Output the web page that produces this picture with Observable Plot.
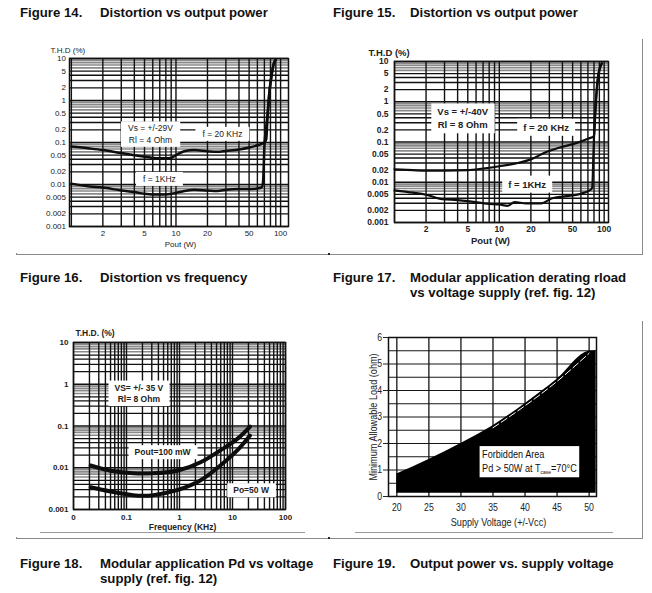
<!DOCTYPE html>
<html><head><meta charset="utf-8">
<script src="https://cdn.jsdelivr.net/npm/d3@7"></script>
<script src="https://cdn.jsdelivr.net/npm/@observablehq/plot@0.6"></script>
<style>
body{margin:0;background:#fff;}
#page{position:relative;width:652px;height:593px;background:#fff;overflow:hidden;font-family:"Liberation Sans",Arial,sans-serif;color:#111;}
.title{position:absolute;font-weight:bold;font-size:13.2px;line-height:15px;white-space:nowrap;}
.title .num{position:absolute;left:0;top:0;}
.title .txt{position:absolute;top:0;}
.box{position:absolute;box-sizing:border-box;border:1px solid #8a8a8a;border-bottom:3px double #8a8a8a;}
.divider{position:absolute;width:2px;background:#222;}
.inner{position:absolute;height:1px;background:#9a9a9a;}
.fig{position:absolute;}
.fig svg{display:block;}
</style></head>
<body>
<div id="page">
  <div class="title" style="left:20px;top:5px"><span class="num">Figure 14.</span><span class="txt" style="left:80px">Distortion vs output power</span></div>
  <div class="title" style="left:333px;top:5px"><span class="num">Figure 15.</span><span class="txt" style="left:77px">Distortion vs output power</span></div>
  <div class="title" style="left:20px;top:270px"><span class="num">Figure 16.</span><span class="txt" style="left:80px">Distortion vs frequency</span></div>
  <div class="title" style="left:333px;top:270px"><span class="num">Figure 17.</span><span class="txt" style="left:77px">Modular application derating rload<br>vs voltage supply (ref. fig. 12)</span></div>
  <div class="title" style="left:20px;top:556px"><span class="num">Figure 18.</span><span class="txt" style="left:80px">Modular application Pd vs voltage<br>supply (ref. fig. 12)</span></div>
  <div class="title" style="left:333px;top:556px"><span class="num">Figure 19.</span><span class="txt" style="left:77px">Output power vs. supply voltage</span></div>

  <div class="box" style="left:16px;top:39px;width:314px;height:216px"></div>
  <div class="box" style="left:329px;top:39px;width:314px;height:216px"></div>
  <div class="box" style="left:16px;top:321px;width:314px;height:218px"></div>
  <div class="box" style="left:329px;top:321px;width:314px;height:218px"></div>
  <div class="divider" style="left:328px;top:39px;height:216px"></div>
  <div class="divider" style="left:328px;top:321px;height:218px"></div>

  <div class="fig" id="f14" style="left:16px;top:39px"></div>
  <div class="fig" id="f15" style="left:329px;top:39px"></div>
  <div class="fig" id="f16" style="left:16px;top:321px"></div>
  <div class="fig" id="f17" style="left:329px;top:321px"></div>
  <div class="inner" style="left:40px;top:532px;width:265px"></div>
  <div class="inner" style="left:355px;top:532px;width:258px"></div>
</div>
<script>
const pageFont = '"Liberation Sans", Arial, sans-serif';

// ---------- Figure 14 data: THD (%) vs Pout (W), Vs=+/-29V, Rl=4 Ohm ----------
const f14PoutHi = [1, 1.5, 2, 3, 4, 5, 6, 7, 8, 9, 10, 12, 15, 20, 25, 30, 40, 50, 60, 70, 73, 75, 78, 82, 86, 90];
const f14ThdHi  = [0.08, 0.072, 0.066, 0.056, 0.05, 0.046, 0.043, 0.042, 0.042, 0.043, 0.05, 0.062, 0.066, 0.062, 0.06, 0.063, 0.068, 0.076, 0.086, 0.1, 0.12, 0.4, 1.5, 4, 7.5, 9.5];
const f14PoutLo = [1, 1.5, 2, 3, 4, 5, 6, 7, 8, 9, 10, 12, 15, 20, 25, 30, 40, 50, 60, 66, 68, 70, 73, 75, 78, 82, 86, 90];
const f14ThdLo  = [0.0105, 0.009, 0.0085, 0.0072, 0.0066, 0.006, 0.0058, 0.0058, 0.0058, 0.006, 0.0063, 0.007, 0.0075, 0.0072, 0.007, 0.0075, 0.0078, 0.0078, 0.008, 0.0085, 0.012, 0.08, 0.25, 0.45, 1.5, 4, 7.5, 9.5];
const f14XTicks = [2, 5, 10, 20, 50, 100];
const f14YTicks = [10, 5, 2, 1, 0.5, 0.2, 0.1, 0.05, 0.02, 0.01, 0.005, 0.002, 0.001];
const f14NoteText = ["Vs = +/-29V\nRl = 4 Ohm", "f = 20 KHz", "f = 1KHz"];
const f14NoteX = [5.7, 27.8, 6.95];
const f14NoteY = [0.164, 0.167, 0.0141];

// ---------- Figure 15 data: Vs=+/-40V, Rl=8 Ohm ----------
const f15PoutHi = [1, 1.5, 2, 3, 5, 7, 10, 15, 20, 27, 40, 55, 70, 80, 82, 85, 89, 95];
const f15ThdHi  = [0.021, 0.02, 0.0195, 0.0195, 0.02, 0.022, 0.025, 0.03, 0.037, 0.054, 0.076, 0.095, 0.12, 0.14, 0.4, 1.8, 5, 9];
const f15PoutLo = [1, 1.5, 2, 2.85, 4, 5, 8, 10, 12, 14, 18, 25, 32, 40, 50, 60, 75, 77, 79, 81, 84, 88, 95];
const f15ThdLo  = [0.0063, 0.0055, 0.0049, 0.0038, 0.0036, 0.0034, 0.0029, 0.0028, 0.0026, 0.0032, 0.003, 0.003, 0.004, 0.0044, 0.0047, 0.0052, 0.0066, 0.0075, 0.05, 0.3, 1.5, 5, 9];
const f15XTicks = [2, 5, 10, 20, 50, 100];
const f15YTicks = [10, 5, 2, 1, 0.5, 0.2, 0.1, 0.05, 0.02, 0.01, 0.005, 0.002, 0.001];
const f15NoteText = ["Vs = +/-40V\nRl = 8 Ohm", "f = 20 KHz", "f = 1KHz"];
const f15NoteX = [4.47, 27.9, 18.4];
const f15NoteY = [0.4, 0.24, 0.0093];

// ---------- Figure 16 data: THD (%) vs frequency (kHz), Vs=+/-35V, Rl=8 Ohm ----------
const f16Freq    = [0.021, 0.05, 0.134, 0.32, 0.9, 2.5, 5.9, 12.3, 21.4];
const f16Thd100m = [0.0113, 0.0085, 0.0074, 0.0074, 0.0085, 0.0135, 0.026, 0.049, 0.097];
const f16Thd50W  = [0.0034, 0.0027, 0.0022, 0.0022, 0.0029, 0.005, 0.0113, 0.026, 0.059];
const f16XTicks = [0.01, 0.1, 1, 10, 100];
const f16XLabels = ["0", "0.1", "1", "10", "100"];
const f16YTicks = [10, 1, 0.1, 0.01, 0.001];
const f16NoteText = ["VS= +/- 35 V\nRl= 8 Ohm", "Pout=100 mW", "Po=50 W"];
const f16NoteX = [0.171, 0.48, 22.4];
const f16NoteY = [0.63, 0.0245, 0.003];

// ---------- Figure 17 data: minimum allowable load (ohm) vs supply voltage ----------
const f17Vcc  = [20, 25, 30, 35, 40, 45, 50, 51.1];
const f17Rmin = [0.85, 1.4, 2.0, 2.67, 3.5, 4.42, 5.48, 5.5];
const f17Floor = 0.12;
const f17XTicks = [20, 25, 30, 35, 40, 45, 50];
const f17YTicks = [0, 1, 2, 3, 4, 5, 6];
const f17NoteText = ["Forbidden Area\nPd > 50W at Tcase=70°C"];
const f17NoteX = [33.3];
const f17NoteY = [1.36];

// ---------- helpers ----------
function logGrid(e0, e1) {
  const out = [];
  for (let e = e0; e < e1; e++) for (let m = 1; m < 10; m++) out.push(+(m * 10 ** e).toPrecision(3));
  out.push(+(10 ** e1).toPrecision(3));
  return out;
}
const mant = v => Math.round(v / 10 ** Math.floor(Math.log10(v) + 1e-9));
const light = g => g.filter(v => mant(v) >= 6);
const dark = g => g.filter(v => mant(v) < 6);
const zipXY = (xs, ys) => xs.map((x, i) => ({x, y: ys[i]}));
const notes = (t, xs, ys) => t.map((text, i) => ({text, x: xs[i], y: ys[i]}));

function logFigure(o) {
  const yGrid = logGrid(-3, 1);
  const xFmt = o.xFormat || (d => String(d));
  return Plot.plot({
    width: o.width, height: o.height,
    marginLeft: o.ml, marginRight: o.mr, marginTop: o.mt, marginBottom: o.mb,
    x: {type: "log", domain: o.xDomain, axis: null},
    y: {type: "log", domain: [0.001, 10], axis: null},
    style: {fontFamily: pageFont, fontSize: o.tickFont + "px", fontWeight: o.weight, color: "#222", background: "white", overflow: "visible"},
    marks: [
      Plot.ruleY(light(yGrid), {stroke: "#8a8a8a", strokeWidth: 1.7}),
      Plot.ruleY(dark(yGrid), {stroke: "#111", strokeWidth: 1.35}),
      Plot.ruleX(o.xGrid, {stroke: "#111", strokeWidth: 1.4}),
      Plot.frame({stroke: "#111", strokeWidth: 1.5}),
      Plot.text(o.yTicks, {y: d => d, text: d => String(d), frameAnchor: "left", textAnchor: "end", dx: -o.yPad, fill: "#222"}),
      Plot.text(o.xTicks, {x: d => d, text: (d, i) => xFmt(d, i), frameAnchor: "bottom", lineAnchor: "top", dy: o.xPad, fill: "#222"}),
      Plot.text(o.notes, {x: "x", y: "y", text: "text", fontSize: o.noteFont, lineHeight: 1.35, fill: "#222"}),
      ...o.series.map(s => Plot.line(s, {x: "x", y: "y", stroke: "#0d0d0d", strokeWidth: o.lineWidth, curve: o.curve})),
      Plot.text([o.yLabel], {text: d => d, frameAnchor: "top-left", textAnchor: "start", lineAnchor: "middle", dx: o.yLabelDx, dy: o.yLabelDy, fontSize: o.labelFont}),
      Plot.text([o.xLabel], {text: d => d, frameAnchor: "bottom", lineAnchor: "middle", dx: o.xLabelDx, dy: o.xLabelDy, fontSize: o.labelFont})
    ]
  });
}

const fig14 = logFigure({
  width: 313, height: 214, ml: 53, mr: 41, mt: 19, mb: 27,
  xDomain: [0.96, 119], xGrid: logGrid(0, 2), xTicks: f14XTicks, yTicks: f14YTicks,
  tickFont: 8, weight: "normal", yPad: 3.5, xPad: 4, noteFont: 8.5, labelFont: 8,
  notes: notes(f14NoteText, f14NoteX, f14NoteY),
  series: [zipXY(f14PoutHi, f14ThdHi), zipXY(f14PoutLo, f14ThdLo)], lineWidth: 2.5, curve: "monotone-x",
  yLabel: "T.H.D (%)", yLabelDx: -19, yLabelDy: -8, xLabel: "Pout (W)", xLabelDx: 1.5, xLabelDy: 18
});
const fig15 = logFigure({
  width: 313, height: 214, ml: 65, mr: 34, mt: 22, mb: 31,
  xDomain: [1, 110], xGrid: logGrid(0, 2), xTicks: f15XTicks, yTicks: f15YTicks,
  tickFont: 8.5, weight: "bold", yPad: 6, xPad: 3.5, noteFont: 9.5, labelFont: 9.5,
  notes: notes(f15NoteText, f15NoteX, f15NoteY),
  series: [zipXY(f15PoutHi, f15ThdHi), zipXY(f15PoutLo, f15ThdLo)], lineWidth: 2.2, curve: "monotone-x",
  yLabel: "T.H.D (%)", yLabelDx: -26, yLabelDy: -9, xLabel: "Pout (W)", xLabelDx: -11, xLabelDy: 18
});
const fig16 = logFigure({
  width: 313, height: 216, ml: 57, mr: 44, mt: 21, mb: 28,
  xDomain: [0.01, 100], xGrid: logGrid(-2, 2), xTicks: f16XTicks, yTicks: f16YTicks,
  xFormat: (d, i) => f16XLabels[i],
  tickFont: 8, weight: "bold", yPad: 5, xPad: 5, noteFont: 8.5, labelFont: 8.5,
  notes: notes(f16NoteText, f16NoteX, f16NoteY),
  series: [zipXY(f16Freq, f16Thd100m), zipXY(f16Freq, f16Thd50W)], lineWidth: 4, curve: "natural",
  yLabel: "T.H.D. (%)", yLabelDx: 2, yLabelDy: -9, xLabel: "Frequency (KHz)", xLabelDx: 3, xLabelDy: 18
});

const f17Data = zipXY(f17Vcc, f17Rmin);
const fig17 = Plot.plot({
  width: 313, height: 216, marginLeft: 59, marginRight: 46, marginTop: 16, marginBottom: 41,
  x: {domain: [18.7, 51.15]},
  y: {domain: [0, 6]},
  style: {fontFamily: pageFont, fontSize: "10.5px", color: "#222", background: "white", overflow: "visible"},
  marks: [
    Plot.ruleY(d3.range(0.5, 6, 0.5), {stroke: "#151515", strokeWidth: 1.2}),
    Plot.ruleX(f17XTicks, {stroke: "#151515", strokeWidth: 1.3}),
    Plot.areaY(f17Data, {x: "x", y1: f17Floor, y2: "y", fill: "#000", curve: "monotone-x"}),
    Plot.line(f17Data.filter(d => d.x >= 35 && d.x <= 50), {x: "x", y: "y", dy: 2, stroke: "#fff", strokeWidth: 1, strokeDasharray: "7,3", curve: "monotone-x"}),
    Plot.frame({stroke: "#111", strokeWidth: 1.5}),
    Plot.axisY(f17YTicks, {tickSize: 5, tickPadding: 1.5, tickFormat: d => String(d), label: null}),
    Plot.axisX(f17XTicks, {tickSize: 0, tickPadding: 7, tickFormat: d => String(d), label: null}),
    Plot.text(notes(f17NoteText, f17NoteX, f17NoteY), {x: "x", y: "y", text: "text", textAnchor: "start", fontSize: 11, lineHeight: 1.3, fill: "#111"}),
    Plot.text(["Minimum Allowable Load (ohm)"], {text: d => d, frameAnchor: "left", textAnchor: "middle", rotate: -90, dx: -15, fontSize: 11}),
    Plot.text(["Supply Voltage (+/-Vcc)"], {text: d => d, frameAnchor: "bottom", lineAnchor: "middle", dx: 6, dy: 26, fontSize: 11})
  ]
});

document.getElementById("f14").append(fig14);
document.getElementById("f15").append(fig15);
document.getElementById("f16").append(fig16);
document.getElementById("f17").append(fig17);

const NS = "http://www.w3.org/2000/svg";
// narrow (Arial-Narrow-like) look for figure 17 texts
fig17.querySelectorAll("text").forEach(t => {
  const tr = t.getAttribute("transform");
  if (tr) t.setAttribute("transform", tr + " scale(0.83,1)");
});
// subscript for T_case
fig17.querySelectorAll("text, tspan").forEach(el => {
  if (el.childElementCount === 0 && el.textContent.includes("Tcase")) {
    const [a, b] = el.textContent.split("Tcase");
    el.textContent = a + "T";
    const sub = document.createElementNS(NS, "tspan");
    sub.setAttribute("font-size", "0.55em"); sub.setAttribute("dy", "2"); sub.textContent = "case";
    const rest = document.createElementNS(NS, "tspan");
    rest.setAttribute("dy", "-2"); rest.textContent = b;
    el.append(sub, rest);
  }
});
// white boxes behind annotation texts, sized from the text itself
function boxNotes(svg, noteTexts, padX, padY) {
  const wanted = noteTexts.map(s => s.replace(/\n/g, ""));
  svg.querySelectorAll("text").forEach(t => {
    if (!wanted.includes(t.textContent)) return;
    const b = t.getBBox();
    const r = document.createElementNS(NS, "rect");
    r.setAttribute("x", b.x - padX); r.setAttribute("y", b.y - padY);
    r.setAttribute("width", b.width + 2 * padX); r.setAttribute("height", b.height + 2 * padY);
    r.setAttribute("fill", "#fff");
    if (t.getAttribute("transform")) r.setAttribute("transform", t.getAttribute("transform"));
    t.parentNode.insertBefore(r, t);
  });
}
boxNotes(fig14, f14NoteText, 7, 2);
boxNotes(fig15, f15NoteText, 6, 3);
boxNotes(fig16, f16NoteText, 6, 2);
boxNotes(fig17, f17NoteText, 3, 2);
</script>
</body></html>
